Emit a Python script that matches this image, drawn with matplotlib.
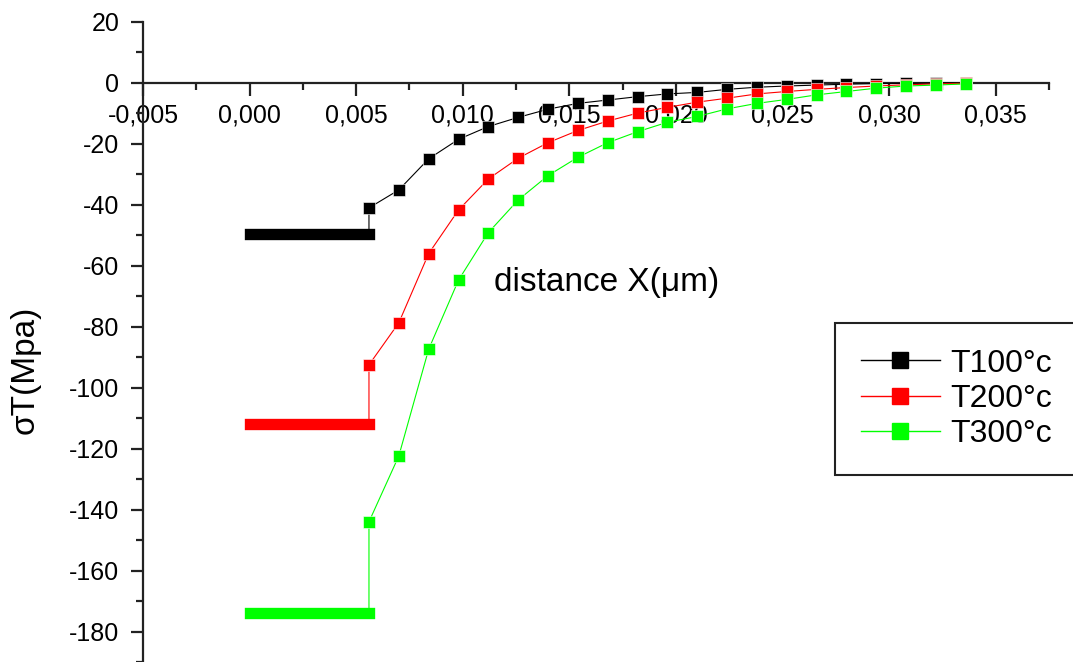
import matplotlib
matplotlib.use("Agg")
import matplotlib.pyplot as plt
from matplotlib.lines import Line2D
from matplotlib.ticker import FixedLocator, MultipleLocator, FuncFormatter

plt.rcParams['font.family'] = ['Liberation Sans', 'DejaVu Sans']
plt.rcParams['axes.unicode_minus'] = False

# distance from the surface
x_profile = [0.0056, 0.0070, 0.0084, 0.0098, 0.0112, 0.0126, 0.0140,
             0.0154, 0.0168, 0.0182, 0.0196, 0.0210, 0.0224, 0.0238,
             0.0252, 0.0266, 0.0280, 0.0294, 0.0308, 0.0322, 0.0336]

# thermal stress inside the coating (constant level) between these bounds
plateau_x = [0.0, 0.0056]
plateau_100 = -49.6
plateau_200 = -112.0
plateau_300 = -174.0

# thermal stress in the substrate
sigma_100 = [-41.0, -35.1, -24.9, -18.5, -14.3, -11.3, -8.6, -6.7, -5.6, -4.5,
             -3.6, -3.1, -2.1, -1.4, -1.0, -0.7, -0.4, -0.2, -0.1, 0.0, 0.0]
sigma_200 = [-92.5, -78.7, -56.0, -41.7, -31.5, -24.7, -19.6, -15.6, -12.5, -9.9,
             -8.0, -6.3, -5.0, -3.6, -2.8, -2.1, -1.5, -1.0, -0.6, -0.3, -0.1]
sigma_300 = [-144.0, -122.4, -87.4, -64.7, -49.1, -38.4, -30.4, -24.4, -19.6, -16.0,
             -12.9, -11.0, -8.5, -6.7, -5.4, -3.9, -2.8, -1.7, -1.0, -0.7, -0.3]

labels = ['T100°c', 'T200°c', 'T300°c']
colors = ['#000000', '#ff0000', '#00ff00']

fig = plt.figure(figsize=(10.73, 6.62), dpi=100)
ax = fig.add_axes([143 / 1073, 0.0, (1049 - 143) / 1073, 1 - 22 / 662])

ms = 8.6
series = [(plateau_100, sigma_100), (plateau_200, sigma_200), (plateau_300, sigma_300)]
for (level, sig), col in zip(series, colors):
    # thin connecting line: plateau -> jump at the interface -> decay
    xs = list(plateau_x) + x_profile
    ys = [level, level] + sig
    ax.plot(xs, ys, color=col, lw=0.8, zorder=3)
    # densely sampled plateau rendered as a solid bar of marker width
    ax.plot(plateau_x, [level, level], color=col, lw=ms * 0.95,
            solid_capstyle='projecting', zorder=3)
    ax.plot(x_profile, sig, ls='none', marker='s', ms=ms, color=col,
            mec='white', mew=0.4, zorder=3)

ax.set_xlim(-0.005, 0.0375)
ax.set_ylim(-190, 20)

ax.spines['top'].set_visible(False)
ax.spines['right'].set_visible(False)
ax.spines['bottom'].set_position(('data', 0))
for sp in ('left', 'bottom'):
    ax.spines[sp].set_linewidth(1.6)
    ax.spines[sp].set_color('#222222')

ax.xaxis.set_major_locator(MultipleLocator(0.005))
ax.xaxis.set_minor_locator(MultipleLocator(0.0025))
ax.yaxis.set_major_locator(FixedLocator(list(range(-180, 21, 20))))
ax.yaxis.set_minor_locator(MultipleLocator(10))
ax.xaxis.set_major_formatter(FuncFormatter(lambda v, p: ('%.3f' % v).replace('.', ',').replace('-0,000', '0,000')))
ax.yaxis.set_major_formatter(FuncFormatter(lambda v, p: '%d' % round(v)))

ax.tick_params(which='major', direction='out', length=9, width=1.6,
               labelsize=18, color='#222222')
ax.tick_params(axis='y', which='major', pad=8)
ax.tick_params(axis='x', which='major', pad=6)
ax.tick_params(which='minor', direction='out', length=5, width=1.6, color='#222222')

fig.text(607 / 1073, 1 - 282 / 662, 'distance X(μm)', fontsize=24,
         ha='center', va='center')
fig.text(25 / 1073, 1 - 370 / 662, 'σT(Mpa)', fontsize=24, rotation=90,
         ha='center', va='center')

handles = [Line2D([], [], color=c, lw=1.0, marker='s', ms=11.5, mec=c)
           for c in colors]
leg = fig.legend(handles, labels, loc='upper left',
                 bbox_to_anchor=(835 / 1073, 1 - 323 / 662),
                 fontsize=23, frameon=True, fancybox=False, framealpha=1,
                 edgecolor='#222222', borderpad=0.8, handlelength=2.5,
                 handletextpad=0.3, labelspacing=0.17, numpoints=1,
                 borderaxespad=0)
leg.get_frame().set_linewidth(1.5)

fig.savefig('out.png', dpi=100)
